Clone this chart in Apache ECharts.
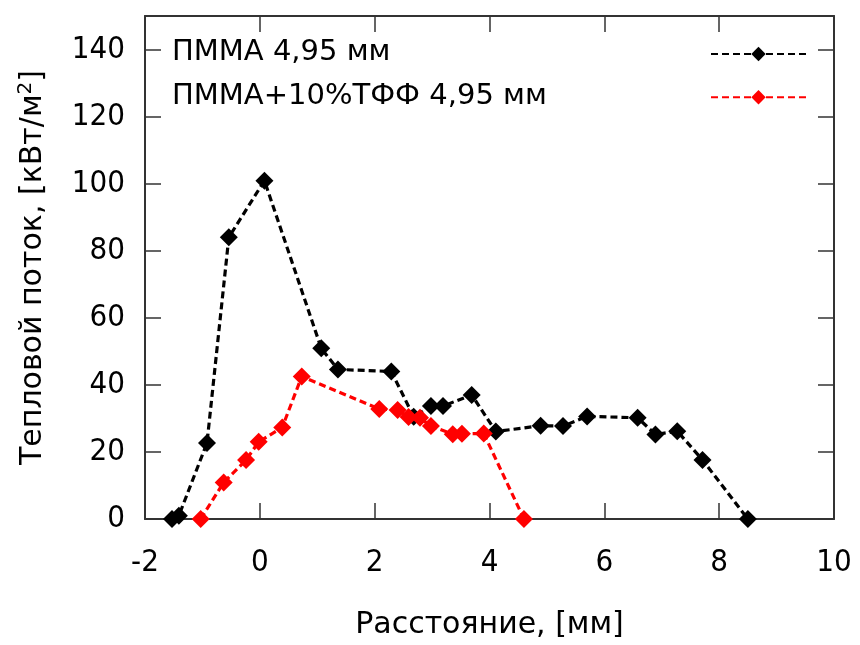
<!DOCTYPE html>
<html>
<head>
<meta charset="utf-8">
<script src="https://cdn.jsdelivr.net/npm/echarts@6/dist/echarts.min.js"></script>
<style>
  html, body { margin: 0; padding: 0; background: #fff; }
  .chart { width: 860px; height: 645px; }
</style>
</head>
<body>
<div class="chart"></div>
<script>
// данные
const seriesNames = ['ПММА 4,95 мм', 'ПММА+10%ТФФ 4,95 мм'];

const pmmaX = [-1.53, -1.41, -0.92, -0.54, 0.08, 1.07, 1.36, 2.29, 2.68, 2.98, 3.19, 3.69, 4.11, 4.89, 5.28, 5.70, 6.58, 6.89, 7.27, 7.71, 8.50];
const pmmaY = [0, 1.0, 22.7, 84, 100.9, 50.9, 44.6, 44.0, 30.5, 33.7, 33.7, 37.0, 26.1, 27.8, 27.7, 30.6, 30.2, 25.2, 26.2, 17.6, 0];

const tffX = [-1.03, -0.63, -0.24, -0.02, 0.39, 0.73, 2.08, 2.40, 2.59, 2.79, 2.98, 3.36, 3.52, 3.90, 4.60];
const tffY = [0, 10.9, 17.6, 23.0, 27.3, 42.5, 32.8, 32.5, 30.4, 30.2, 27.7, 25.3, 25.4, 25.5, 0];

const xTicks = [-2, 0, 2, 4, 6, 8, 10];
const yTicks = [0, 20, 40, 60, 80, 100, 120, 140];

const font = '"DejaVu Sans", sans-serif';
const fontNum = '"DejaVu Sans Condensed", "DejaVu Sans", sans-serif';
const frame = '#333';

const pairs = (xs, ys) => xs.map((x, i) => [x, ys[i]]);

{
  const baseX = {
    type: 'value',
    min: xTicks[0],
    max: xTicks[xTicks.length - 1],
    interval: 2,
    splitLine: { show: false },
    axisLine: { onZero: false, lineStyle: { color: frame, width: 2 } },
    axisTick: { inside: true, length: 16, lineStyle: { color: frame, width: 1.5 } }
  };
  const baseY = {
    type: 'value',
    min: yTicks[0],
    max: 150,
    interval: 20,
    splitLine: { show: false },
    axisLine: { onZero: false, lineStyle: { color: frame, width: 2 } },
    axisTick: { inside: true, length: 16, lineStyle: { color: frame, width: 1.5 } }
  };

  let option = {
    backgroundColor: '#fff',
    textStyle: { fontFamily: font },
    animation: false,
    grid: { left: 145, right: 26, top: 16, bottom: 122 },
    legend: [{
      // подписи
      data: seriesNames,
      orient: 'vertical',
      left: 162,
      top: 33,
      itemGap: 15,
      itemWidth: 0,
      itemHeight: 14,
      icon: 'none',
      selectedMode: false,
      textStyle: { fontSize: 29, color: '#000', fontFamily: font }
    }, {
      // образцы линий
      data: seriesNames,
      orient: 'vertical',
      left: 705,
      top: 40,
      itemGap: 27,
      itemWidth: 95,
      itemHeight: 18,
      selectedMode: false,
      formatter: () => '',
      textStyle: { fontSize: 12, fontFamily: font }
    }],
    xAxis: [Object.assign({}, baseX, {
      position: 'bottom',
      name: 'Расстояние, [мм]',
      nameLocation: 'middle',
      nameGap: 91,
      nameTextStyle: { fontSize: 30, color: '#000', fontFamily: font },
      axisLabel: { fontSize: 31, color: '#000', margin: 28, fontFamily: fontNum }
    }), Object.assign({}, baseX, {
      position: 'top',
      axisLabel: { show: false }
    })],
    yAxis: [Object.assign({}, baseY, {
      position: 'left',
      name: 'Тепловой поток, [кВт/м{s|2}]',
      nameLocation: 'middle',
      nameGap: 95,
      nameTextStyle: {
        fontSize: 30, color: '#000', fontFamily: font,
        rich: { s: { fontSize: 20, color: '#000', fontFamily: font, padding: [0, 0, 14, 0] } }
      },
      axisLabel: { fontSize: 31, color: '#000', margin: 20, showMaxLabel: false, fontFamily: fontNum }
    }), Object.assign({}, baseY, {
      position: 'right',
      axisLabel: { show: false }
    })],
    series: [{
      name: seriesNames[0],
      type: 'line',
      xAxisIndex: 0,
      yAxisIndex: 0,
      data: pairs(pmmaX, pmmaY),
      symbol: 'diamond',
      symbolSize: 18,
      color: '#000',
      itemStyle: { color: '#000' },
      lineStyle: { color: '#000', width: 3.2, type: [7, 4] }
    }, {
      name: seriesNames[1],
      type: 'line',
      xAxisIndex: 0,
      yAxisIndex: 0,
      data: pairs(tffX, tffY),
      symbol: 'diamond',
      symbolSize: 18,
      color: '#ff0000',
      itemStyle: { color: '#ff0000' },
      lineStyle: { color: '#ff0000', width: 3.2, type: [7, 4] }
    }]
  };
  let myChart = echarts.init(document.querySelector('.chart'), null, { renderer: 'canvas' });
  myChart.setOption(option);
}
</script>
</body>
</html>
